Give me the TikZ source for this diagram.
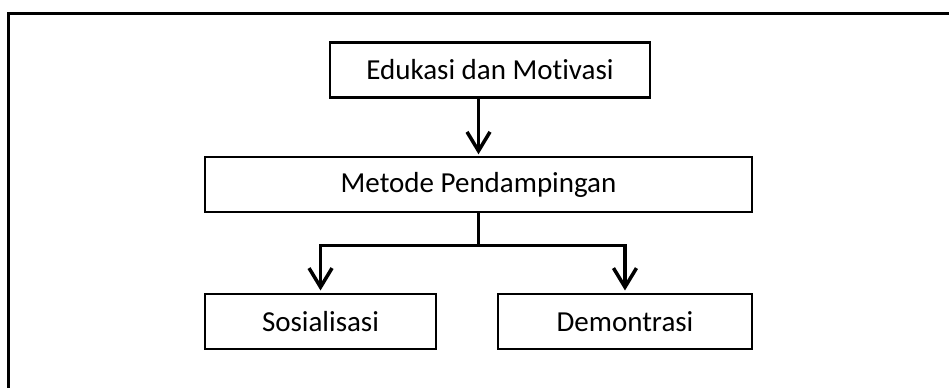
\documentclass[tikz,border=0pt]{standalone}
\usepackage{fontspec}
\setmainfont[Ligatures=NoCommon]{Carlito}
\usetikzlibrary{positioning, arrows.meta}

\begin{document}
\begin{tikzpicture}[x=0.02cm, y=-0.02cm, font=\fontsize{16.5}{20}\selectfont,
	block/.style={draw, line width=1.2pt, minimum height=1.1cm, align=center, fill=white},
	arrow/.style={-{Straight Barb[length=3.8mm, width=4.6mm]}, line width=2pt},
	link/.style={line width=2pt}]
	
	\useasboundingbox (0,0) rectangle (949,388);
	% marco exterior (solo borde superior e izquierdo)
	\draw[line width=1.5pt] (8.5,388) |- (949,13.3);
	
	% Bloques
	\node[block, minimum width=6.4cm] (edukasi) at (490,70) {Edukasi dan Motivasi};
	\node[block, minimum width=10.94cm, below=1.15cm of edukasi, xshift=-0.23cm] (metode) {Metode Pendampingan};
	\node[block, minimum width=4.62cm, below right=1.6cm and 0cm of metode.south west] (sosial) {Sosialisasi};
	\node[block, minimum width=5.08cm, below left=1.6cm and 0cm of metode.south east] (demo) {Demontrasi};
	
	\coordinate[below=0.65cm of metode] (fork);
	
	\draw[arrow, shorten >=1pt] (edukasi.south -| metode.north) -- (metode.north);
	
	% Ramificación hacia abajo
	\draw[link] (metode) -- (fork);
	\draw[arrow, shorten >=1.5pt] (fork) -| (sosial);
	\draw[arrow, shorten >=1.5pt] (fork) -| (demo);
\end{tikzpicture}
\end{document}
